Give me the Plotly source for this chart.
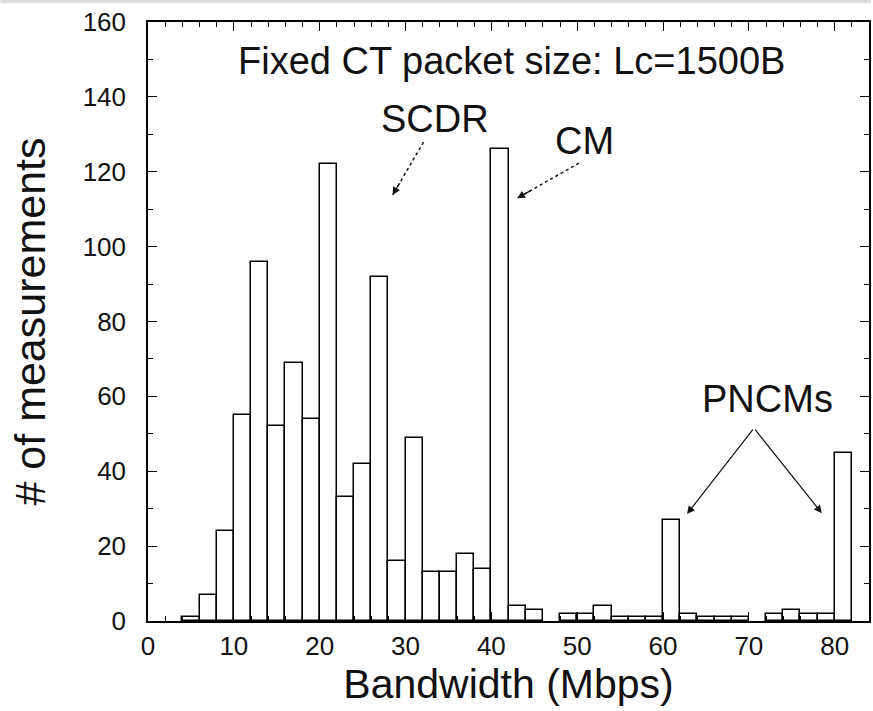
import plotly.graph_objects as go

bin_left = [4, 6, 8, 10, 12, 14, 16, 18, 20, 22, 24, 26, 28, 30, 32, 34, 36, 38, 40, 42,
            44, 46, 48, 50, 52, 54, 56, 58, 60, 62, 64, 66, 68, 70, 72, 74, 76, 78, 80]
counts = [1, 7, 24, 55, 96, 52, 69, 54, 122, 33, 42, 92, 16, 49, 13, 13, 18, 14, 126, 4,
          3, 0, 2, 2, 4, 1, 1, 1, 27, 2, 1, 1, 1, 0, 2, 3, 2, 2, 45]
bin_width = 2

xs = [b + bin_width / 2 for b, c in zip(bin_left, counts) if c > 0]
ys = [c for c in counts if c > 0]

FONT = "Liberation Sans, Arial, sans-serif"

fig = go.Figure()
fig.add_trace(go.Bar(
    x=xs, y=ys, width=[bin_width] * len(xs),
    marker=dict(color="white", line=dict(color="black", width=1.5)),
    showlegend=False,
))

axis_common = dict(
    showline=True, linecolor="black", linewidth=1.5, mirror="allticks",
    ticks="inside", ticklen=9, tickwidth=1.3, tickcolor="black",
    showgrid=False, zeroline=False,
    tickfont=dict(family=FONT, size=26, color="#111"),
)

fig.update_xaxes(range=[0, 84], dtick=10, tick0=0, ticklabelstandoff=1,
                 minor=dict(dtick=2, ticks="inside", ticklen=5, tickcolor="black"),
                 title=dict(text="Bandwidth (Mbps)", font=dict(family=FONT, size=41, color="#111"), standoff=6),
                 **axis_common)
fig.update_yaxes(range=[0, 160], dtick=20, tick0=0, ticklabelstandoff=15,
                 minor=dict(dtick=10, ticks="inside", ticklen=5, tickcolor="black"),
                 title=dict(text="# of measurements", font=dict(family=FONT, size=43, color="#111"), standoff=24),
                 **axis_common)

ann_font = dict(family=FONT, size=38, color="#111")
anns = [
    dict(x=42.3, y=149.5, text="Fixed CT packet size: Lc=1500B", showarrow=False, font=ann_font),
    dict(x=33.4, y=134.0, text="SCDR", showarrow=False, font=ann_font),
    dict(x=50.8, y=128.2, text="CM", showarrow=False, font=ann_font),
    dict(x=72.2, y=59.3, text="PNCMs", showarrow=False, font=ann_font),
]
# (tail, head, dashed)
arrows = [
    ((32.1, 127.9), (28.5, 113.8), True),
    ((50.2, 122.3), (43.0, 112.9), True),
    ((70.6, 51.5), (62.8, 28.6), False),
    ((70.6, 51.5), (78.5, 28.8), False),
]
shapes = []
for (tx, ty), (hx, hy), dashed in arrows:
    if dashed:
        shapes.append(dict(type="line", xref="x", yref="y", x0=tx, y0=ty, x1=hx, y1=hy,
                           line=dict(color="#111", width=1.5, dash="dot")))
        sx, sy = hx + 0.25 * (tx - hx), hy + 0.25 * (ty - hy)
    else:
        sx, sy = tx, ty
    anns.append(dict(x=hx, y=hy, ax=sx, ay=sy, xref="x", yref="y", axref="x", ayref="y",
                     text="", showarrow=True, arrowhead=2, arrowsize=1.3, arrowwidth=1.2,
                     arrowcolor="#111"))

# light grey frame line along the top of the picture
shapes.append(dict(type="rect", xref="paper", yref="paper",
                   x0=-148 / 723, x1=1 + 2 / 723, y0=1 + 19 / 599, y1=1 + 22 / 599,
                   fillcolor="#dcdcdc", line=dict(width=0), layer="below"))

fig.update_layout(
    width=873, height=711,
    margin=dict(l=148, r=2, t=22, b=90),
    plot_bgcolor="white", paper_bgcolor="white",
    annotations=anns, shapes=shapes, bargap=0,
)

fig.write_html("out.html")
